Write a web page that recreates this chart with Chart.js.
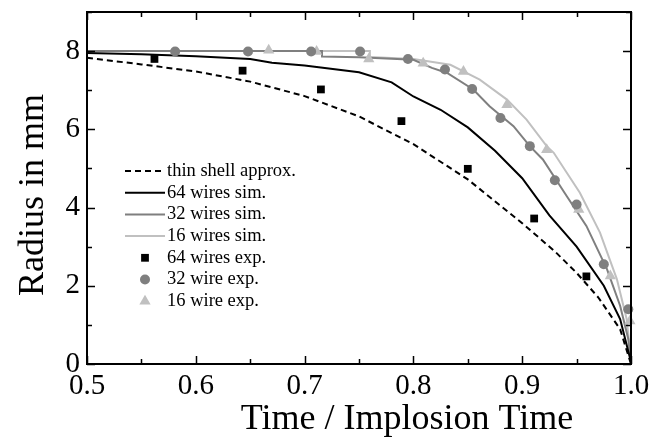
<!DOCTYPE html>
<html>
<head>
<meta charset="utf-8">
<script src="https://cdn.jsdelivr.net/npm/chart.js@4/dist/chart.umd.min.js"></script>
<style>
  html, body { margin: 0; padding: 0; background: #fff; }
  #wrap { width: 663px; height: 438px; }
</style>
</head>
<body>
<div id="wrap"><canvas id="radiusChart"></canvas></div>
<script>
// data (time normalised to implosion time, radius in mm)
const thinShellT = [0.5, 0.55, 0.6, 0.65, 0.7, 0.75, 0.8, 0.85, 0.9, 0.93, 0.95, 0.97, 0.99, 1.0];
const thinShellR = [7.83, 7.66, 7.48, 7.22, 6.85, 6.33, 5.62, 4.72, 3.6, 2.88, 2.33, 1.70, 0.89, 0];

const wires64SimT = [0.5, 0.55, 0.6, 0.65, 0.67, 0.7, 0.75, 0.78, 0.8, 0.825, 0.85, 0.875, 0.9, 0.925, 0.95, 0.975, 0.99, 1.0];
const wires64SimR = [7.95, 7.92, 7.87, 7.8, 7.7, 7.63, 7.46, 7.2, 6.84, 6.5, 6.05, 5.45, 4.75, 3.8, 3.0, 2.0, 1.15, 0.05];

const wires32SimT = [0.5, 0.6, 0.716, 0.716, 0.75, 0.8, 0.817, 0.831, 0.855, 0.87, 0.892, 0.907, 0.919, 0.941, 0.959, 0.978, 0.99, 0.9975, 1.0];
const wires32SimR = [8.0, 8.0, 8.0, 7.86, 7.84, 7.78, 7.57, 7.44, 7.02, 6.59, 6.08, 5.57, 5.23, 4.29, 3.53, 2.42, 1.49, 0.64, 0];

const wires16SimT = [0.5, 0.6, 0.7, 0.76, 0.76, 0.8, 0.834, 0.861, 0.886, 0.904, 0.9225, 0.929, 0.953, 0.9715, 0.987, 0.996, 1.0];
const wires16SimR = [8.0, 8.0, 8.0, 8.0, 7.85, 7.8, 7.65, 7.27, 6.76, 6.25, 5.57, 5.40, 4.38, 3.36, 2.17, 1.15, 0.1];

const wires64ExpT = [0.562, 0.643, 0.715, 0.789, 0.850, 0.911, 0.959];
const wires64ExpR = [7.80, 7.50, 7.02, 6.21, 4.99, 3.72, 2.24];

const wires32ExpT = [0.581, 0.648, 0.706, 0.751, 0.795, 0.829, 0.854, 0.880, 0.907, 0.930, 0.950, 0.975, 0.9975];
const wires32ExpR = [7.99, 7.99, 7.99, 7.99, 7.80, 7.53, 7.03, 6.29, 5.57, 4.70, 4.08, 2.55, 1.40];

const wires16ExpT = [0.667, 0.711, 0.759, 0.809, 0.846, 0.886, 0.9225, 0.952, 0.981, 0.999];
const wires16ExpR = [8.02, 7.99, 7.80, 7.69, 7.48, 6.63, 5.48, 3.95, 2.25, 1.10];

const xTickLabels = ["0.5", "0.6", "0.7", "0.8", "0.9", "1.0"];
const yTickLabels = ["0", "2", "4", "6", "8"];
const xTitle = "Time / Implosion Time";
const yTitle = "Radius in mm";

const GRAY = "#7f7f7f";
const LIGHT = "#c0c0c0";
const FONT = "'Liberation Serif', 'Times New Roman', serif";

function pts(xs, ys) {
    return xs.map((x, i) => ({x: x, y: ys[i]}));
}

function lineSet(label, xs, ys, color, dash) {
    return {
        label: label, data: pts(xs, ys), showLine: true,
        borderColor: color, borderWidth: 2, borderDash: dash || [],
        pointRadius: 0, tension: 0, order: 2
    };
}

function markerSet(label, xs, ys, color, style, r) {
    return {
        label: label, data: pts(xs, ys), showLine: false,
        pointStyle: style, pointRadius: r, pointHoverRadius: r,
        backgroundColor: color, borderColor: color, borderWidth: 0,
        clip: false, order: 1
    };
}

//frame with inward ticks on all four sides, plus axis titles
const framePlugin = {
    id: "frame",
    afterDraw(chart) {
        const {ctx, chartArea: a, scales} = chart;
        ctx.save();
        ctx.strokeStyle = "#000";
        ctx.lineWidth = 2;
        ctx.strokeRect(a.left, a.top, a.right - a.left, a.bottom - a.top);
        ctx.lineWidth = 1.5;
        ctx.beginPath();
        for (let i = 0; i <= 10; i++) {
            const px = Math.round(scales.x.getPixelForValue(0.5 + i * 0.05)) + 0.5;
            const len = i % 2 === 0 ? 8 : 5;
            ctx.moveTo(px, a.bottom); ctx.lineTo(px, a.bottom - len);
            ctx.moveTo(px, a.top); ctx.lineTo(px, a.top + len);
        }
        for (let j = 0; j <= 9; j++) {
            const py = Math.round(scales.y.getPixelForValue(j)) + 0.5;
            const len = j % 2 === 0 ? 8 : 5;
            ctx.moveTo(a.left, py); ctx.lineTo(a.left + len, py);
            ctx.moveTo(a.right, py); ctx.lineTo(a.right - len, py);
        }
        ctx.stroke();

        ctx.fillStyle = "#000";
        ctx.font = "36px " + FONT;
        ctx.textAlign = "center";
        ctx.textBaseline = "alphabetic";
        ctx.fillText(xTitle, 407, 429);
        ctx.translate(43, 195);
        ctx.rotate(-Math.PI / 2);
        ctx.fillText(yTitle, 0, 0);
        ctx.restore();
    }
};

function drawMarker(ctx, style, x, y, r, color) {
    ctx.fillStyle = color;
    ctx.beginPath();
    if (style === "rect") {
        const s = r * Math.SQRT1_2;
        ctx.rect(x - s, y - s, 2 * s, 2 * s);
    } else if (style === "circle") {
        ctx.arc(x, y, r, 0, Math.PI * 2);
    } else {
        ctx.moveTo(x, y - r);
        ctx.lineTo(x + r * 0.866, y + r * 0.5);
        ctx.lineTo(x - r * 0.866, y + r * 0.5);
        ctx.closePath();
    }
    ctx.fill();
}

//legend inside the plot
const legendPlugin = {
    id: "innerLegend",
    afterDraw(chart) {
        const ctx = chart.ctx;
        const x0 = 125, x1 = 165, textX = 167, y0 = 171, step = 21.7;
        ctx.save();
        ctx.font = "18.5px " + FONT;
        ctx.textBaseline = "middle";
        chart.data.datasets.forEach((ds, i) => {
            const y = y0 + i * step;
            if (ds.showLine) {
                ctx.strokeStyle = ds.borderColor;
                ctx.lineWidth = ds.borderWidth;
                ctx.setLineDash(ds.borderDash);
                ctx.beginPath();
                ctx.moveTo(x0, y); ctx.lineTo(x1, y);
                ctx.stroke();
                ctx.setLineDash([]);
            } else {
                drawMarker(ctx, ds.pointStyle, (x0 + x1) / 2, y, ds.pointRadius, ds.backgroundColor);
            }
            ctx.fillStyle = "#000";
            ctx.fillText(ds.label, textX, y);
        });
        ctx.restore();
    }
};

new Chart(document.getElementById("radiusChart"), {
    type: "scatter",
    data: {
        datasets: [
            lineSet("thin shell approx.", thinShellT, thinShellR, "#000", [6, 4]),
            lineSet("64 wires sim.", wires64SimT, wires64SimR, "#000"),
            lineSet("32 wires sim.", wires32SimT, wires32SimR, GRAY),
            lineSet("16 wires sim.", wires16SimT, wires16SimR, LIGHT),
            markerSet("64 wires exp.", wires64ExpT, wires64ExpR, "#000", "rect", 5.5),
            markerSet("32 wire exp.", wires32ExpT, wires32ExpR, GRAY, "circle", 5),
            markerSet("16 wire exp.", wires16ExpT, wires16ExpR, LIGHT, "triangle", 6.5)
        ]
    },
    options: {
        responsive: true,
        maintainAspectRatio: false,
        animation: false,
        devicePixelRatio: 1,
        layout: {padding: {top: 12, right: 32, left: 0, bottom: 0}},
        plugins: {legend: {display: false}, tooltip: {enabled: false}},
        scales: {
            x: {
                type: "linear", min: 0.5, max: 1.0,
                grid: {display: false, drawTicks: false},
                border: {display: false},
                ticks: {
                    stepSize: 0.1, padding: 5, color: "#000", maxRotation: 0,
                    font: {family: FONT, size: 29},
                    callback: (v) => {
                        const k = Math.round((v - 0.5) / 0.1);
                        return Math.abs(v - (0.5 + k * 0.1)) < 1e-6 ? xTickLabels[k] : "";
                    }
                },
                afterFit: (s) => { s.height = 74; s.paddingLeft = 0; s.paddingRight = 0; }
            },
            y: {
                type: "linear", min: 0, max: 9,
                grid: {display: false, drawTicks: false},
                border: {display: false},
                ticks: {
                    stepSize: 1, padding: 7, color: "#000",
                    font: {family: FONT, size: 29},
                    callback: (v) => (v % 2 === 0 ? yTickLabels[v / 2] : "")
                },
                afterFit: (s) => { s.width = 87; s.paddingTop = 0; s.paddingBottom = 0; }
            }
        }
    },
    plugins: [framePlugin, legendPlugin]
});
</script>
</body>
</html>
